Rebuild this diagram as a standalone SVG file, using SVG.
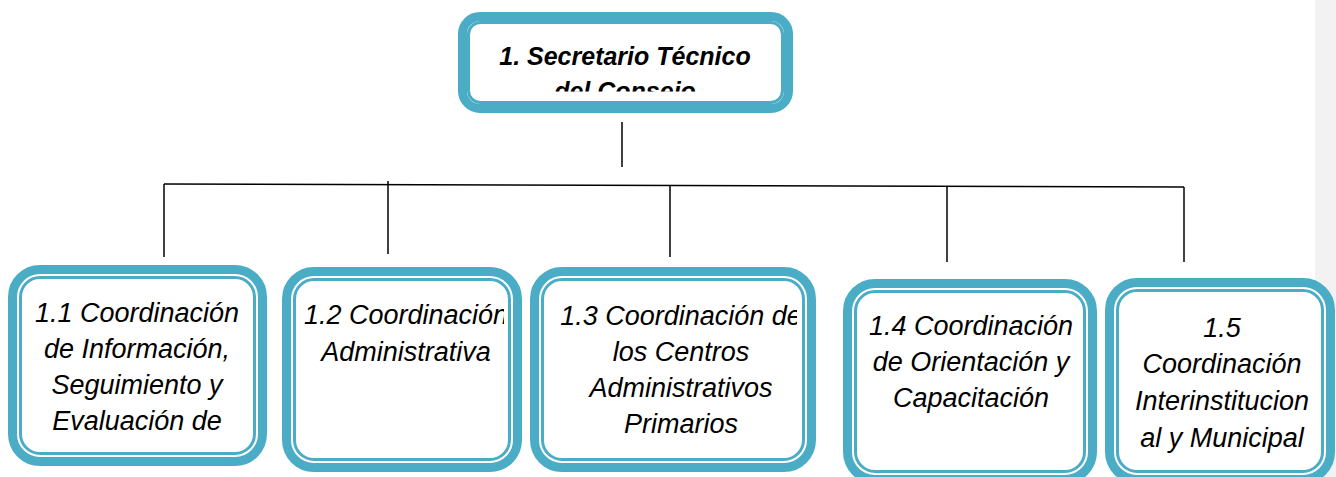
<svg xmlns="http://www.w3.org/2000/svg" width="1336" height="477" viewBox="0 0 1336 477">
<style>
.thick{fill:#ffffff;stroke:#4bacc6;stroke-width:9}
.thin{fill:none;stroke:#4bacc6;stroke-width:3}
.lbl{font-family:"Liberation Sans",Arial,sans-serif;font-style:italic;font-size:27px;fill:#000000;text-anchor:middle}
.ttl{font-family:"Liberation Sans",Arial,sans-serif;font-style:italic;font-weight:bold;font-size:25px;fill:#000000;text-anchor:middle}
.con{stroke:#000000;stroke-width:1.5;fill:none}
</style>
<defs>
<clipPath id="c0"><rect x="470" y="22" width="312" height="69.5"/></clipPath>
<clipPath id="c2"><rect x="295" y="280" width="209" height="180"/></clipPath>
<clipPath id="c3"><rect x="543" y="280" width="254" height="180"/></clipPath>
</defs>
<rect x="1315" y="0" width="21" height="477" fill="#f2f2f2"/>
<g id="connectors">
<line class="con" x1="622" y1="122" x2="622" y2="167"/>
<line class="con" x1="164" y1="184" x2="1184" y2="187"/>
<line class="con" x1="164" y1="184" x2="164" y2="257"/>
<line class="con" x1="388" y1="181" x2="388" y2="254"/>
<line class="con" x1="670" y1="185" x2="670" y2="257"/>
<line class="con" x1="947" y1="186" x2="947" y2="262"/>
<line class="con" x1="1184" y1="187" x2="1184" y2="262"/>
</g>
<g id="n1">
<rect class="thick" x="462.5" y="16.5" width="326" height="92" rx="17.5"/>
<rect class="thin" x="468.5" y="22.5" width="314" height="80" rx="12" stroke-width="2.5"/>
<g clip-path="url(#c0)">
<text class="ttl" x="625" y="65">1. Secretario Técnico</text>
<text class="ttl" x="625" y="100">del Consejo</text>
</g>
</g>
<g id="n1_1">
<rect class="thick" x="12.5" y="269.5" width="250" height="192" rx="27.5"/>
<rect class="thin" x="20.5" y="277.5" width="234" height="176" rx="19.5"/>
<text class="lbl" x="137" y="322">1.1 Coordinación</text>
<text class="lbl" x="137" y="358">de Información,</text>
<text class="lbl" x="137" y="394">Seguimiento y</text>
<text class="lbl" x="137" y="430">Evaluación de</text>
</g>
<g id="n1_2">
<rect class="thick" x="286.5" y="271.5" width="231" height="196" rx="27.5"/>
<rect class="thin" x="294.5" y="279.5" width="215" height="180" rx="19.5"/>
<g clip-path="url(#c2)">
<text class="lbl" x="406" y="324">1.2 Coordinación</text>
<text class="lbl" x="406" y="361">Administrativa</text>
</g>
</g>
<g id="n1_3">
<rect class="thick" x="534.5" y="271.5" width="277" height="196" rx="27.5"/>
<rect class="thin" x="542.5" y="279.5" width="261" height="180" rx="19.5"/>
<g clip-path="url(#c3)">
<text class="lbl" x="681" y="325">1.3 Coordinación de</text>
<text class="lbl" x="681" y="361">los Centros</text>
<text class="lbl" x="681" y="397">Administrativos</text>
<text class="lbl" x="681" y="433">Primarios</text>
</g>
</g>
<g id="n1_4">
<rect class="thick" x="847.5" y="283.5" width="245" height="196" rx="27.5"/>
<rect class="thin" x="855.5" y="291.5" width="229" height="180" rx="19.5"/>
<text class="lbl" x="971" y="335">1.4 Coordinación</text>
<text class="lbl" x="971" y="371">de Orientación y</text>
<text class="lbl" x="971" y="407">Capacitación</text>
</g>
<g id="n1_5">
<rect class="thick" x="1109.5" y="282.5" width="221" height="197" rx="27.5"/>
<rect class="thin" x="1117.5" y="290.5" width="205" height="181" rx="19.5"/>
<text class="lbl" x="1222" y="337">1.5</text>
<text class="lbl" x="1222" y="373">Coordinación</text>
<text class="lbl" x="1222" y="410">Interinstitucion</text>
<text class="lbl" x="1222" y="447">al y Municipal</text>
</g>
</svg>
